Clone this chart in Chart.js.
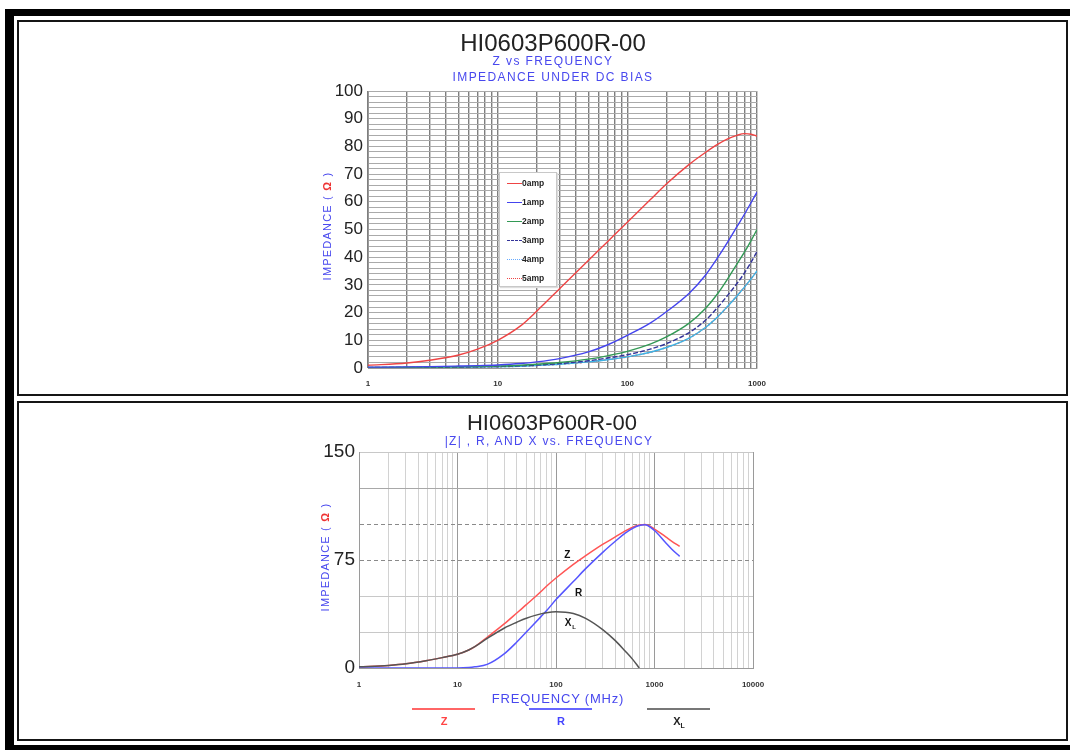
<!DOCTYPE html>
<html><head><meta charset="utf-8">
<script src="https://cdn.jsdelivr.net/npm/chart.js@4.4.1/dist/chart.umd.min.js"></script>
<style>
html,body{margin:0;padding:0;background:#fff;width:1070px;height:750px;overflow:hidden;font-family:"Liberation Sans",Arial,sans-serif;}
.a{position:absolute;}
#frame{left:5px;top:9px;width:1056px;height:729px;border-left:9px solid #000;border-top:7px solid #000;border-bottom:5px solid #000;}
.panel{left:17px;width:1047px;border:2px solid #151515;}
.ttl{text-align:center;color:#222;white-space:nowrap;}
.sub{text-align:center;color:#4848ee;font-size:12px;letter-spacing:1.4px;white-space:nowrap;}
.ytl{color:#4848ee;font-size:11px;letter-spacing:1.2px;white-space:nowrap;transform:rotate(-90deg);transform-origin:center center;text-align:center;width:160px;height:14px;line-height:14px;}
.ytl b{color:#ee3333;font-weight:bold;}
#leg{left:499px;top:172px;width:56px;height:113px;border:1px solid #c8c8c8;background:#fff;box-shadow:1px 1px 1px #ddd;}
.li{position:absolute;left:7px;height:10px;font-size:8.5px;font-weight:bold;color:#222;line-height:10px;white-space:nowrap;}
.li i{display:inline-block;width:15px;height:0;vertical-align:middle;margin-right:0px;}
.bl{height:0;border-top:2px solid;}
.blt{font-size:11px;font-weight:bold;text-align:center;width:40px;}
</style></head>
<body>
<div id="frame" class="a"></div>
<div class="a panel" style="top:20px;height:372px;"></div>
<div class="a panel" style="top:401px;height:336px;"></div>

<canvas id="c1" class="a" style="left:300px;top:22px;" width="480" height="372"></canvas>
<canvas id="c2" class="a" style="left:300px;top:403px;" width="480" height="336"></canvas>

<div class="a ttl" style="left:353px;top:29px;width:400px;font-size:24px;line-height:28px;">HI0603P600R-00</div>
<div class="a sub" style="left:353px;top:54px;width:400px;line-height:14px;">Z vs FREQUENCY</div>
<div class="a sub" style="left:353px;top:70px;width:400px;line-height:14px;">IMPEDANCE UNDER DC BIAS</div>
<div class="a ytl" style="left:247px;top:219px;">IMPEDANCE ( <b>Ω</b> )</div>

<div id="leg" class="a">
  <div class="li" style="top:5px;"><i style="border-top:1.5px solid #ee4444"></i>0amp</div>
  <div class="li" style="top:24px;"><i style="border-top:1.5px solid #4444ee"></i>1amp</div>
  <div class="li" style="top:43px;"><i style="border-top:1.5px solid #339955"></i>2amp</div>
  <div class="li" style="top:62px;"><i style="border-top:1.5px dashed #333399"></i>3amp</div>
  <div class="li" style="top:81px;"><i style="border-top:1.5px dotted #66aaff"></i>4amp</div>
  <div class="li" style="top:100px;"><i style="border-top:1.5px dotted #ee4444"></i>5amp</div>
</div>

<div class="a ttl" style="left:352px;top:410px;width:400px;font-size:22px;line-height:26px;">HI0603P600R-00</div>
<div class="a sub" style="left:349px;top:434px;width:400px;line-height:14px;letter-spacing:1.3px;">|Z| , R, AND X vs. FREQUENCY</div>
<div class="a ytl" style="left:245px;top:550px;">IMPEDANCE ( <b>Ω</b> )</div>
<div class="a sub" style="left:408px;top:691px;width:300px;font-size:13px;letter-spacing:0.8px;line-height:16px;">FREQUENCY (MHz)</div>

<div class="a bl" style="left:412px;top:708px;width:63px;border-color:#ff6666;"></div>
<div class="a blt" style="left:424px;top:715px;color:#ff4444;">Z</div>
<div class="a bl" style="left:529px;top:708px;width:63px;border-color:#6666ff;"></div>
<div class="a blt" style="left:541px;top:715px;color:#4444ff;">R</div>
<div class="a bl" style="left:647px;top:708px;width:63px;border-color:#777;"></div>
<div class="a blt" style="left:659px;top:715px;color:#222;">X<sub style="font-size:7px;">L</sub></div>

<script>
// ---------- Top chart data (Z vs frequency under DC bias) ----------
const topFreq = [1, 2, 3, 5, 7, 10, 15, 20, 30, 50, 70, 100, 150, 200, 300, 400, 500, 600, 700, 800, 900, 1000];
const amp0 = [1.0, 1.8, 2.8, 4.7, 6.8, 10, 15.2, 20.5, 28.6, 38.8, 45.5, 52.6, 60.7, 66.4, 73.5, 77.8, 80.8, 82.8, 84.0, 84.6, 84.4, 83.7];
const amp1 = [0.3, 0.4, 0.5, 0.7, 0.85, 1.1, 1.6, 2.2, 3.4, 5.8, 8.3, 11.8, 16.2, 20.3, 27, 33.5, 40, 45.8, 51, 55.5, 59.7, 63.5];
const amp2 = [0.2, 0.25, 0.3, 0.45, 0.55, 0.7, 1.0, 1.35, 2.0, 3.2, 4.4, 6, 8.6, 11.2, 16.2, 21.5, 27, 32.5, 37.5, 41.8, 46, 50];
const amp3 = [0.15, 0.2, 0.25, 0.35, 0.45, 0.55, 0.8, 1.05, 1.6, 2.6, 3.6, 4.8, 6.8, 8.8, 12.8, 17.2, 22, 26.5, 30.5, 34.3, 38.2, 42];
const amp4 = [0.1, 0.15, 0.2, 0.3, 0.38, 0.45, 0.65, 0.9, 1.35, 2.2, 3.0, 4.0, 5.7, 7.4, 10.8, 14.6, 18.6, 22.5, 26, 29.2, 32.2, 35];
const amp5 = [0.1, 0.15, 0.2, 0.3, 0.38, 0.45, 0.65, 0.9, 1.35, 2.2, 3.0, 4.0, 5.7, 7.4, 10.8, 14.6, 18.6, 22.5, 26, 29.2, 32.2, 35];
const topSeriesNames = ['0amp', '1amp', '2amp', '3amp', '4amp', '5amp'];
const topXTickLabels = ['1', '10', '100', '1000'];
const topYTickLabels = ['0', '10', '20', '30', '40', '50', '60', '70', '80', '90', '100'];

// ---------- Bottom chart data (|Z|, R, X vs frequency) ----------
const botFreq = [1, 2, 3, 5, 7, 10, 13, 15, 20, 30, 40, 50, 70, 80, 100, 150, 200, 300, 400, 500, 600, 700, 800, 1000, 1300, 1500, 1800];
const zVals = [0.8, 1.8, 2.9, 5.3, 7.2, 9.5, 12.5, 14.9, 21.3, 30.8, 38.2, 44, 53, 56.8, 62.5, 72, 78, 86, 91, 95, 97.7, 99.3, 99.6, 96.5, 91, 88, 84.5];
const rVals = [0, 0, 0, 0, 0, 0, 0.3, 0.8, 2.5, 10, 18, 25, 35.5, 39.7, 47.5, 60, 69, 80.5, 88, 93.5, 97, 99, 99.5, 95.5, 87, 82.5, 77.5];
const xVals = [0.8, 1.8, 2.9, 5.3, 7.2, 9.5, 12.5, 14.8, 20.5, 27.8, 31.8, 34.6, 37.6, 38.4, 39, 37.8, 34.5, 26.5, 19, 12, 6, 0, null, null, null, null, null];
const botSeriesNames = ['Z', 'R', 'XL'];
const botXTickLabels = ['1', '10', '100', '1000', '10000'];
const botYTickLabels = ['0', '75', '150'];
const botCurveLabels = [
  {text: 'Z', sub: '', f: 130, v: 78},
  {text: 'R', sub: '', f: 170, v: 52},
  {text: 'X', sub: 'L', f: 133, v: 31}
];

// log-decade grid positions
function logGrid(maxVal) {
  const out = [];
  for (let d = 1; d < maxVal; d *= 10) for (let k = 1; k < 10; k++) out.push({value: d * k});
  out.push({value: maxVal});
  return out;
}
function linGrid(min, max, step) {
  const out = [];
  for (let v = min; v <= max + 1e-9; v += step) out.push({value: Math.round(v * 1000) / 1000});
  return out;
}
const isDecade = v => Math.abs(Math.log10(v) - Math.round(Math.log10(v))) < 1e-9;
const FONT = '"Liberation Sans", Arial, sans-serif';

function pts(xs, ys) { return xs.map((x, i) => ({x: x, y: ys[i]})); }

// ---------- Top chart ----------
const topColors = ['#ee4444', '#4444ee', '#339955', '#333399', '#3cb4e6', '#ee4444'];
const topDash = [[], [], [], [5, 2], [], [2, 2]];
const topData = [amp0, amp1, amp2, amp3, amp4, amp5];
new Chart(document.getElementById('c1'), {
  type: 'line',
  data: {
    datasets: topData.map((d, i) => ({
      label: topSeriesNames[i], data: pts(topFreq, d),
      borderColor: topColors[i], borderWidth: 1.4, borderDash: topDash[i],
      pointRadius: 0, cubicInterpolationMode: 'monotone', fill: false
    }))
  },
  options: {
    responsive: false, animation: false, devicePixelRatio: 1,
    layout: {padding: {top: 69, right: 23, left: 0, bottom: 0}},
    plugins: {legend: {display: false}, title: {display: false}, tooltip: {enabled: false}},
    scales: {
      x: {
        type: 'logarithmic', min: 1, max: 1000,
        afterBuildTicks: s => { s.ticks = logGrid(1000); },
        afterFit: s => { s.height = 26; },
        ticks: {autoSkip: false, maxRotation: 0, padding: 11, color: '#333',
          font: {family: FONT, size: 8, weight: 'bold'},
          callback: v => (isDecade(v) && topXTickLabels.includes(String(v))) ? String(v) : ''},
        grid: {drawTicks: false, color: '#7e7e7e', lineWidth: 1.4},
        border: {color: '#999'}
      },
      y: {
        min: 0, max: 100,
        afterBuildTicks: s => { s.ticks = linGrid(0, 100, 2); },
        afterFit: s => { s.width = 68; },
        ticks: {autoSkip: false, padding: 5, color: '#222', font: {family: FONT, size: 17},
          callback: v => topYTickLabels.includes(String(v)) ? String(v) : ''},
        grid: {drawTicks: false, color: '#aaaaaa', lineWidth: 1},
        border: {color: '#999'}
      }
    }
  }
});

// ---------- Bottom chart ----------
const botColors = ['#ff5555', '#5555ff', '#555555'];
const botOrder = [2, 1, 0];
const curveLabelPlugin = {
  id: 'curveLabels',
  afterDatasetsDraw(chart) {
    const {ctx, scales} = chart;
    ctx.save();
    ctx.fillStyle = '#111';
    ctx.textAlign = 'center';
    ctx.textBaseline = 'middle';
    botCurveLabels.forEach(l => {
      const x = scales.x.getPixelForValue(l.f), y = scales.y.getPixelForValue(l.v);
      ctx.font = 'bold 10px ' + FONT;
      ctx.fillText(l.text, x, y);
      if (l.sub) { ctx.font = 'bold 6px ' + FONT; ctx.fillText(l.sub, x + 6, y + 4); }
    });
    ctx.restore();
  }
};
new Chart(document.getElementById('c2'), {
  type: 'line',
  data: {
    datasets: [zVals, rVals, xVals].map((d, i) => ({
      label: botSeriesNames[i], data: pts(botFreq, d), order: botOrder[i],
      borderColor: botColors[i], borderWidth: 1.5,
      pointRadius: 0, cubicInterpolationMode: 'monotone', fill: false, spanGaps: false
    }))
  },
  options: {
    responsive: false, animation: false, devicePixelRatio: 1,
    layout: {padding: {top: 49, right: 27, left: 0, bottom: 0}},
    plugins: {legend: {display: false}, title: {display: false}, tooltip: {enabled: false}},
    scales: {
      x: {
        type: 'logarithmic', min: 1, max: 10000,
        afterBuildTicks: s => { s.ticks = logGrid(10000); },
        afterFit: s => { s.height = 71; },
        ticks: {autoSkip: false, maxRotation: 0, padding: 12, color: '#333',
          font: {family: FONT, size: 8, weight: 'bold'},
          callback: v => (isDecade(v) && botXTickLabels.includes(String(v))) ? String(v) : ''},
        grid: {drawTicks: false, color: c => (c.tick && isDecade(c.tick.value)) ? '#9a9a9a' : '#d2d2d2', lineWidth: 1},
        border: {color: '#9a9a9a'}
      },
      y: {
        min: 0, max: 150,
        afterBuildTicks: s => { s.ticks = linGrid(0, 150, 25); },
        afterFit: s => { s.width = 59; },
        ticks: {autoSkip: false, padding: 4, color: '#222', font: {family: FONT, size: 19},
          callback: v => botYTickLabels.includes(String(v)) ? String(v) : ''},
        grid: {drawTicks: false, lineWidth: 1,
          color: c => (c.tick && (c.tick.value === 75 || c.tick.value === 100)) ? '#8a8a8a' : (c.tick && c.tick.value === 125 ? '#a8a8a8' : '#c8c8c8')},
        border: {color: '#9a9a9a', dash: c => (c.tick && (c.tick.value === 75 || c.tick.value === 100)) ? [4, 3] : []}
      }
    }
  },
  plugins: [curveLabelPlugin]
});
</script>
</body></html>
